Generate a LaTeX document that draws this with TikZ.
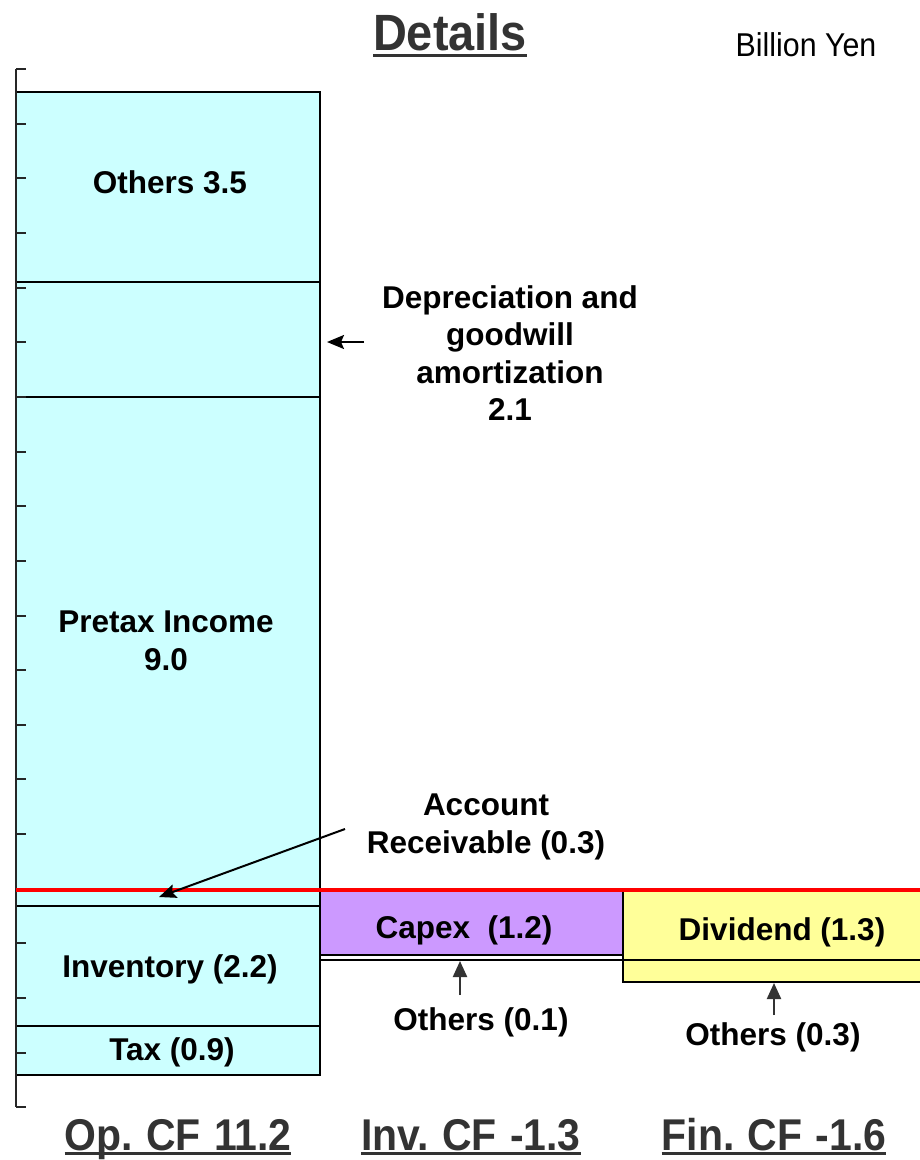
\documentclass[tikz,border=0pt]{standalone}
\usepackage{fontspec}
\setmainfont{Liberation Sans}
\newfontfamily\narrowfont[FakeStretch=0.92]{Liberation Sans}
\usetikzlibrary{arrows.meta}
\definecolor{cyanfill}{HTML}{CCFFFF}
\definecolor{purplefill}{HTML}{CC99FF}
\definecolor{yellowfill}{HTML}{FFFF99}
\definecolor{darkgray3}{HTML}{333333}
\definecolor{redline}{HTML}{FF0000}
\newcommand\ulbar[2]{\setbox0\hbox{#2}\rlap{\rule[#1]{\wd0}{3pt}}\box0}
\newcommand\tightsp{\hspace{0.3em}}
\begin{document}
\begin{tikzpicture}[x=1pt,y=-1pt,
  seg/.style={draw=black, line width=1.5pt, fill=cyanfill},
  capseg/.style={draw=black, line width=1.5pt, fill=purplefill},
  divseg/.style={draw=black, line width=1.5pt, fill=yellowfill},
  lbl/.style={font=\bfseries\fontsize{31.5}{37.5}\selectfont, inner sep=0pt, align=center, text=black},
  cflbl/.style={font=\narrowfont\bfseries\fontsize{44.5}{54}\selectfont, inner sep=0pt, text=darkgray3, anchor=base},
  tickmark/.style={draw=black!85, line width=2pt},
  arr/.style={draw=black, line width=2pt, -{Stealth[length=17pt,width=14pt,inset=3pt]}},
  garr/.style={draw=darkgray3, line width=2.2pt, -{Triangle[length=16pt,width=14pt]}}
]
\useasboundingbox (0,0) rectangle (920,1160);
% Operating CF bar
\path[seg] (16,92) rectangle (320,282);
\path[seg] (16,282) rectangle (320,397);
\path[seg] (16,397) rectangle (320,890);
\path[seg] (16,890) rectangle (320,906);
\path[seg] (16,906) rectangle (320,1026);
\path[seg] (16,1026) rectangle (320,1075);
% Investing CF bar
\path[capseg] (320,891) rectangle (623,955);
\path[draw=black, line width=1.5pt, fill=white] (320,955) rectangle (623,960);
% Financing CF bar
\path[divseg] (623,891) rectangle (930,960);
\path[divseg] (623,960) rectangle (930,982);
% axis
\draw[tickmark] (16,69) -- (16,1107);
\foreach \k in {0,...,19} {
  \draw[tickmark] (16,{69+54.65*\k}) -- (26,{69+54.65*\k});
}
% red zero line
\draw[draw=redline, line width=4pt] (16,890) -- (920,890);
% labels
\node[lbl, anchor=base] (oth) at (170,193) {Others 3.5};
\node[lbl, anchor=north] (dep) at (510,285) {Depreciation and\\goodwill\\amortization\\2.1};
\node[lbl, anchor=north] (pre) at (166,611) {Pretax Income\\9.0};
\node[lbl, anchor=north] (ar) at (486,794) {Account\\Receivable (0.3)};
\node[lbl, anchor=base] (inv) at (170,977) {Inventory (2.2)};
\node[lbl, anchor=base] (tax) at (172,1060) {Tax (0.9)};
\node[lbl, anchor=base] (capex) at (464,938) {Capex\ \ (1.2)};
\node[lbl, anchor=base] (div) at (782,940) {Dividend (1.3)};
\node[lbl, anchor=base] (o1) at (481,1030) {Others (0.1)};
\node[lbl, anchor=base] (o3) at (773,1045) {Others (0.3)};
% arrows
\coordinate (depTail) at (364,342);
\coordinate (depTip) at (327,342);
\draw[arr] (depTail) -- (depTip);
\coordinate (arTail) at (345,829);
\coordinate (arTip) at (159,897);
\draw[arr] (arTail) -- (arTip);
\coordinate (o1Tail) at (460,995);
\coordinate (o1Tip) at (460,961);
\draw[garr] (o1Tail) -- (o1Tip);
\coordinate (o3Tail) at (774,1015);
\coordinate (o3Tip) at (774,983);
\draw[garr] (o3Tail) -- (o3Tip);
% titles
\node[anchor=base, inner sep=0pt, font=\narrowfont\bfseries\fontsize{51}{60}\selectfont, text=darkgray3] (title) at (450,50) {\ulbar{-7pt}{Details}};
\node[anchor=base, inner sep=0pt, font=\narrowfont\fontsize{33}{40}\selectfont, text=black] (unit) at (806,56) {Billion Yen};
\node[cflbl] (opcf) at (178,1150) {\ulbar{-5pt}{Op.\tightsp CF\tightsp 11.2}};
\node[cflbl] (invcf) at (471,1150) {\ulbar{-5pt}{Inv.\tightsp CF\tightsp -1.3}};
\node[cflbl] (fincf) at (774,1150) {\ulbar{-5pt}{Fin.\tightsp CF\tightsp -1.6}};
\end{tikzpicture}
\end{document}
